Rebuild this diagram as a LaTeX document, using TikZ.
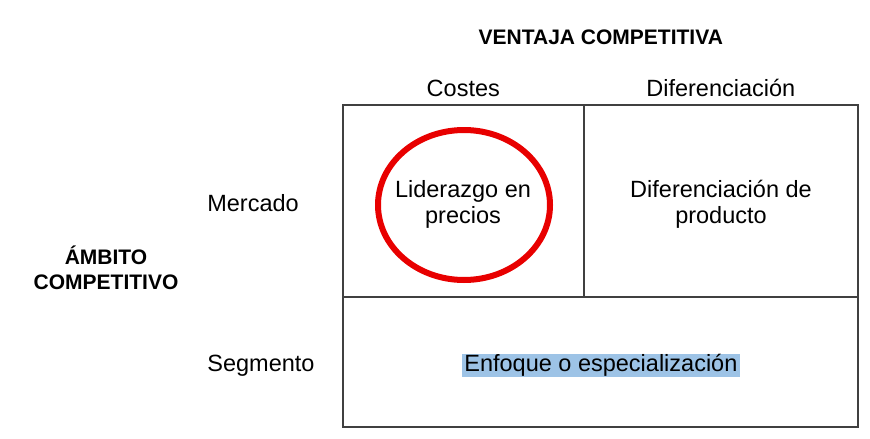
\documentclass[tikz,border=0pt]{standalone}
\usepackage{fontspec}
\setmainfont{Liberation Sans}
\usetikzlibrary{shapes.geometric}
\definecolor{gridc}{RGB}{64,64,64}
\definecolor{hl}{RGB}{157,195,230}
\definecolor{redc}{RGB}{232,0,0}
\tikzset{
  txt/.style={inner sep=0pt, font=\fontsize{23.5}{26.3}\selectfont, align=center},
  head/.style={inner sep=0pt, font=\fontsize{21}{25}\selectfont\bfseries, align=center},
  gridline/.style={draw=gridc, line width=1.3pt}
}
\begin{document}
\begin{tikzpicture}[x=1pt,y=-1pt]
\useasboundingbox (0,0) rectangle (870,439);
% grid
\coordinate (tl) at (343,105);
\coordinate (br) at (858,427);
\coordinate (vt) at (584,105);
\coordinate (vb) at (584,297);
\coordinate (hl) at (343,297);
\coordinate (hr) at (858,297);
\draw[gridline] (tl) rectangle (br);
\draw[gridline] (vt) -- (vb);
\draw[gridline] (hl) -- (hr);
% headings
\node[head, anchor=base] (vc) at (600.8,44) {VENTAJA COMPETITIVA};
\node[txt, anchor=base] (costes) at (463.3,96) {Costes};
\node[txt, anchor=base] (dif) at (720.8,96) {Diferenciación};
\node[txt, anchor=base] (merc) at (253,211) {Mercado};
\node[txt, anchor=base] (seg) at (261,371.7) {Segmento};
\node[head] (ac) at (106,268) {ÁMBITO\\COMPETITIVO};
% cells
\node[ellipse, draw=redc, line width=6pt, minimum width=172, minimum height=150, inner sep=0pt] (circ) at (464,205) {};
\node[txt] (lid) at (463,204.3) {Liderazgo en\\precios};
\node[txt] (difp) at (721,204.3) {Diferenciación de\\producto};
\node[txt, anchor=base, fill=hl, inner xsep=2.2pt, inner ysep=0.2pt, text height=17.3pt, text depth=5pt] (enf) at (600.9,371.7) {Enfoque o especialización};
\end{tikzpicture}
\end{document}
